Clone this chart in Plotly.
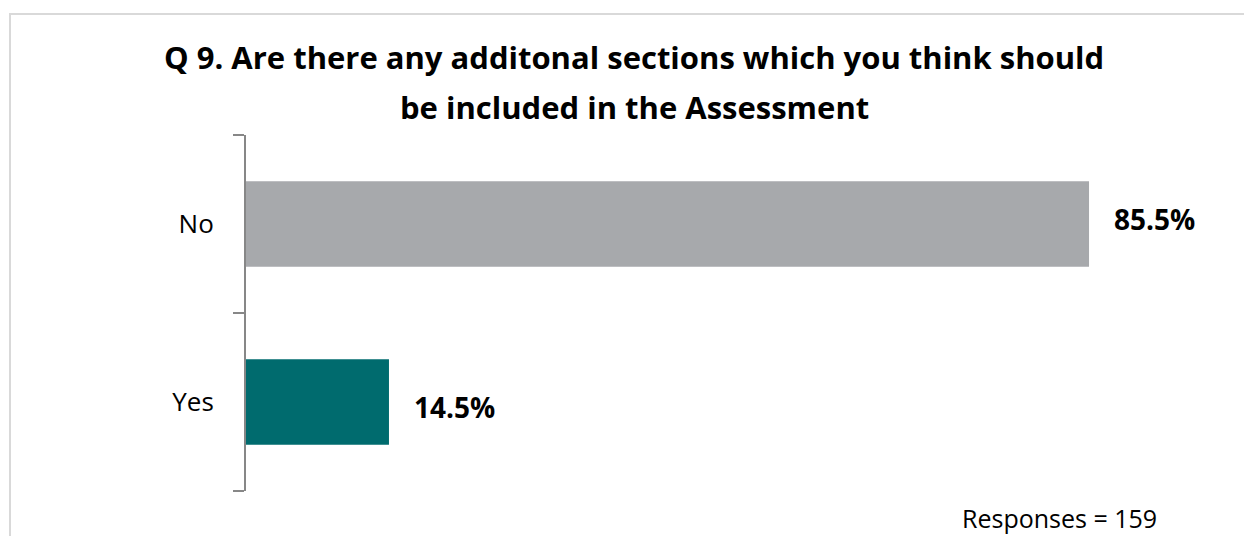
import plotly.graph_objects as go

# Survey answers, bottom to top
categories = ["Yes", "No"]
shares = [14.5, 85.5]
bar_colors = ["#006B6E", "#A7A9AC"]

title_lines = [
    "Q 9. Are there any additonal sections which you think should",
    "be included in the Assessment",
]
footnote = "Responses = 159"

W, H = 1244, 536
L, R, T, B = 246, 12, 135, 45
PW, PH = W - L - R, H - T - B


def px_x(x):
    """Horizontal pixel position -> paper fraction."""
    return (x - L) / PW


def px_y(y):
    """Vertical pixel position (from top) -> paper fraction."""
    return (H - B - y) / PH


FONT = "Open Sans"

fig = go.Figure(
    go.Bar(
        x=shares,
        y=categories,
        orientation="h",
        marker=dict(color=bar_colors, line=dict(width=0)),
        hoverinfo="skip",
    )
)

# Value labels to the right of each bar
label_shift = {"Yes": -5, "No": 5}
for cat, val in zip(categories, shares):
    fig.add_annotation(
        x=val, y=cat, xref="x", yref="y",
        text=f"<b>{val:.1f}%</b>",
        showarrow=False, xanchor="left", yanchor="middle",
        xshift=23, yshift=label_shift[cat],
        font=dict(family=FONT, size=28, color="#000000"),
    )

# Two-line bold heading
for text, yc in zip(title_lines, [57, 107]):
    fig.add_annotation(
        x=px_x(634), y=px_y(yc), xref="paper", yref="paper",
        text=f"<b>{text}</b>", showarrow=False,
        xanchor="center", yanchor="middle",
        font=dict(family=FONT, size=31, color="#000000"),
    )

fig.add_annotation(
    x=px_x(961), y=px_y(536), xref="paper", yref="paper",
    text=footnote, showarrow=False, xanchor="left", yanchor="bottom",
    borderpad=0,
    font=dict(family=FONT, size=25, color="#000000"),
)

# Light frame around the chart area
fig.add_shape(
    type="rect", xref="paper", yref="paper",
    x0=px_x(10), x1=px_x(W + 20), y0=px_y(H + 20), y1=px_y(14),
    line=dict(color="#D9D9D9", width=2), fillcolor="rgba(0,0,0,0)",
    layer="below",
)

fig.update_layout(
    width=W, height=H,
    margin=dict(l=L, r=R, t=T, b=B, autoexpand=False),
    paper_bgcolor="white", plot_bgcolor="white",
    showlegend=False,
    bargap=0.52,
    font=dict(family=FONT, color="#000000"),
)

fig.update_xaxes(
    range=[0, 100], visible=False, showgrid=False, zeroline=False, fixedrange=True,
)
fig.update_yaxes(
    categoryorder="array", categoryarray=categories,
    range=[-0.5, 1.5],
    showline=True, linecolor="#878787", linewidth=2,
    ticks="outside", tickson="boundaries", ticklen=11,
    tickcolor="#878787", tickwidth=2,
    ticklabelstandoff=25,
    tickfont=dict(family=FONT, size=26, color="#000000"),
    showgrid=False, zeroline=False, fixedrange=True,
)

fig.write_html("out.html")
